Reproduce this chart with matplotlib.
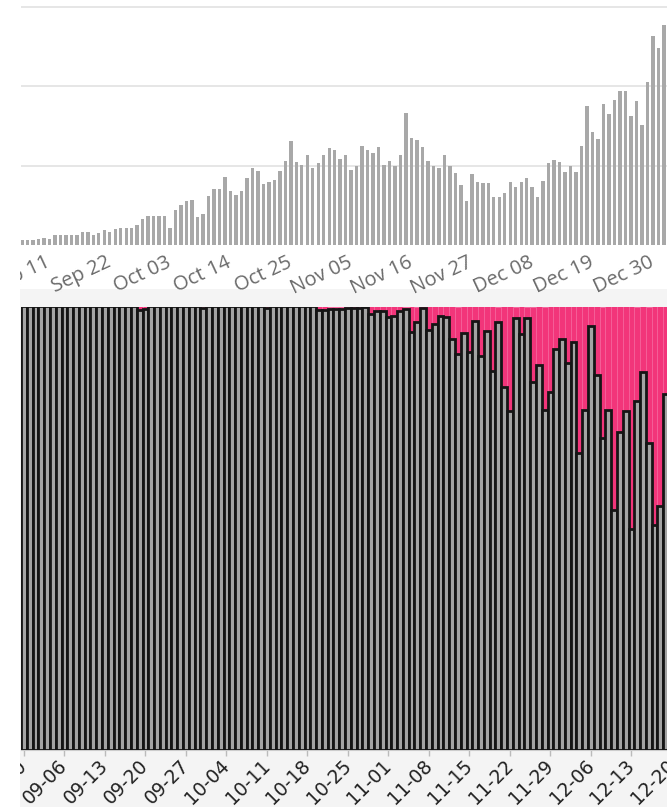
import matplotlib.pyplot as plt
import matplotlib.dates as mdates
from matplotlib.patches import Rectangle
import numpy as np
import pandas as pd

# daily counts (top panel), first day 2021-09-06
top_start = '2021-09-06'
top_counts = [60, 60, 60, 80, 90, 70, 130, 130, 120, 120,
              130, 160, 160, 120, 150, 190, 160, 200, 220, 210,
              220, 250, 330, 360, 370, 370, 370, 220, 440, 500,
              550, 570, 350, 390, 620, 710, 700, 860, 685, 630,
              685, 840, 975, 930, 770, 800, 820, 930, 1060, 1310,
              1050, 1010, 1140, 970, 1030, 1130, 1220, 1200, 1090, 1140,
              940, 990, 1250, 1200, 1160, 1230, 1010, 1060, 1000, 1130,
              1660, 1350, 1320, 1230, 1060, 990, 970, 1130, 1000, 910,
              760, 550, 890, 800, 780, 780, 600, 600, 660, 800,
              730, 800, 840, 730, 600, 810, 1030, 1070, 1050, 920,
              1000, 920, 1250, 1750, 1420, 1340, 1780, 1650, 1830, 1940,
              1940, 1630, 1810, 1510, 2050, 2640, 2480, 2770]

# share per day (bottom panel), first day 2021-08-30
bottom_start = '2021-08-30'
share_gray = ([100.0] * 20 + [99.2, 99.4] + [100.0] * 9 + [99.6] + [100.0] * 10 + [99.7]
              + [100.0] * 8 + [99.2, 99.3]
              + [99.5, 99.5, 99.5, 99.6, 99.7, 99.7, 99.8, 98.2, 99.0, 98.9,
                 97.6, 97.8, 99.0, 99.5, 94.2, 96.5, 99.7, 94.7, 96.0, 97.8,
                 97.6, 92.6, 89.3, 94.0, 89.7, 96.8, 88.8, 94.5]
              + [85.4, 96.5, 81.8, 76.5, 97.5, 93.8, 97.4, 83.0, 86.9, 76.7,
                 80.7, 90.5, 92.6, 87.3, 91.9, 67.0, 76.6, 95.5, 84.5, 70.4,
                 76.6, 54.2, 71.7, 76.4, 49.9, 78.7, 85.2, 69.3, 50.7, 55.0,
                 80.3])
share_pink = [100 - g for g in share_gray]

W, H = 667, 807
fig = plt.figure(figsize=(W / 100, H / 100), dpi=100)
fig.patch.set_facecolor('white')
fig.patches.append(Rectangle((0, 0), 1, (H - 289) / H, transform=fig.transFigure,
                             facecolor='#f4f4f4', edgecolor='none', zorder=-5))

# ---- top panel ----
px_day = 5.486
x0 = 21
top_dates = pd.date_range(top_start, periods=len(top_counts))
d0 = mdates.date2num(top_dates[0])
left_d, right_d = -0.18, 121
ax1 = fig.add_axes([x0 / W, (H - 245) / H, (right_d - left_d) * px_day / W, 245 / H])
ax1.set_facecolor('none')
ax1.bar(top_dates, top_counts, width=0.62, color='#a8a8a8', zorder=2)
ax1.set_ylim(0, 245 / 79.3 * 1000)
ax1.set_yticks([1000, 2000, 3000])
ax1.yaxis.grid(True, color='#e6e6e6', lw=1.4, zorder=0)
ax1.tick_params(axis='y', left=False, labelleft=False)
for s in ax1.spines.values():
    s.set_visible(False)
tick_days = pd.date_range('2021-09-11', '2021-12-30', freq='11D')
ax1.set_xticks(tick_days)
ax1.set_xlim(d0 + left_d, d0 + right_d)
ax1.xaxis.set_major_formatter(mdates.DateFormatter('%b %d'))
ax1.tick_params(axis='x', length=0, pad=12, labelsize=14.5, labelcolor='#6a6a6a')
for lab in ax1.get_xticklabels():
    lab.set_rotation(25)
    lab.set_ha('right')
    lab.set_va('center')
    lab.set_rotation_mode('anchor')
    lab.set_family('Open Sans')

# ---- bottom panel ----
px_bar = 5.786
idx = np.arange(len(share_gray))
xmax = 113.5
ax2 = fig.add_axes([x0 / W, (H - 750) / H, (xmax + 0.5) * px_bar / W, (750 - 306.5) / H])
ax2.set_facecolor('#f4f4f4')
ax2.bar(idx, share_pink, bottom=share_gray, width=1.0, color='#f2357a',
        edgecolor='#f5619a', lw=0.6, zorder=2)
ax2.bar(idx, share_gray, width=1.0, color='#a4a4a4', edgecolor='#151515', lw=2.0, zorder=3)
ax2.set_ylim(0, 100)
ax2.set_yticks([])
for s in ['top', 'left', 'right']:
    ax2.spines[s].set_visible(False)
ax2.spines['bottom'].set_color('#cccccc')
week_idx = np.arange(0, 113, 7)
week_dates = pd.date_range(bottom_start, periods=113)[week_idx]
ax2.set_xticks(week_idx)
ax2.set_xticklabels([d.strftime('%m-%d') for d in week_dates])
ax2.set_xlim(-0.5, xmax)
ax2.tick_params(axis='x', length=4, width=1, color='#bbbbbb', pad=5,
                labelsize=13.5, labelcolor='#222222')
for lab in ax2.get_xticklabels():
    lab.set_rotation(45)
    lab.set_ha('right')
    lab.set_va('center')
    lab.set_rotation_mode('anchor')

# the screenshot is cut on the left: blank strip
fig.patches.append(Rectangle((0, 0), 20 / W, 1, transform=fig.transFigure,
                             facecolor='white', edgecolor='none', zorder=10))

fig.savefig('out.png', dpi=100)
